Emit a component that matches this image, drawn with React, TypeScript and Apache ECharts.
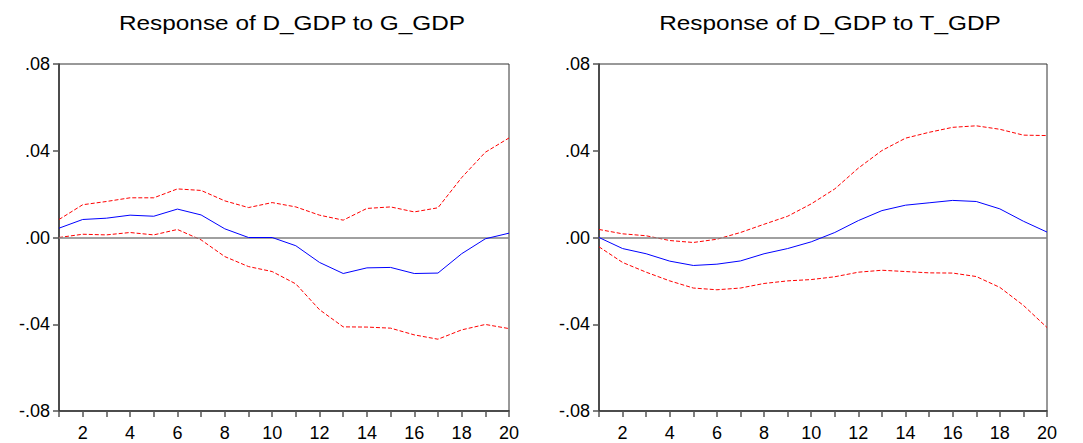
import React, { useEffect, useRef } from "react";
import * as echarts from "echarts";

// Impulse response horizons
const periods = [1, 2, 3, 4, 5, 6, 7, 8, 9, 10, 11, 12, 13, 14, 15, 16, 17, 18, 19, 20];
const yTicks = [-0.08, -0.04, 0, 0.04, 0.08];

// Response of D_GDP to G_GDP
const gResp = [0.0043, 0.0083, 0.0089, 0.0103, 0.0098, 0.0131, 0.0104, 0.004, 0.0, 0.0, -0.0038, -0.0115, -0.0166, -0.014, -0.0138, -0.0166, -0.0164, -0.0075, -0.0006, 0.002];
const gUpper = [0.0083, 0.0151, 0.0166, 0.0183, 0.0183, 0.0224, 0.0217, 0.0169, 0.0138, 0.0161, 0.0141, 0.0103, 0.008, 0.0134, 0.0141, 0.0118, 0.0137, 0.0276, 0.0393, 0.0459];
const gLower = [0.0, 0.0015, 0.0012, 0.0023, 0.0012, 0.0037, -0.0011, -0.0088, -0.0134, -0.0157, -0.0214, -0.0333, -0.0412, -0.0413, -0.0418, -0.0449, -0.0469, -0.0426, -0.0401, -0.042];

// Response of D_GDP to T_GDP
const tResp = [0.0, -0.0051, -0.0075, -0.0109, -0.0129, -0.0123, -0.0108, -0.0075, -0.0051, -0.002, 0.0023, 0.0078, 0.0124, 0.0149, 0.016, 0.0171, 0.0166, 0.0132, 0.0075, 0.0025];
const tUpper = [0.0037, 0.0017, 0.0008, -0.0014, -0.0023, -0.0008, 0.0023, 0.0061, 0.0098, 0.0155, 0.0224, 0.032, 0.0401, 0.0458, 0.0485, 0.0508, 0.0515, 0.0499, 0.0472, 0.047];
const tLower = [-0.0043, -0.0115, -0.016, -0.02, -0.0233, -0.0241, -0.0233, -0.0212, -0.02, -0.0194, -0.0181, -0.016, -0.0151, -0.0157, -0.0163, -0.0164, -0.018, -0.023, -0.0313, -0.0415];

const titles = ["Response of D_GDP to G_GDP", "Response of D_GDP to T_GDP"];

const FONT = "Liberation Sans, Arial, sans-serif";
const AXIS_COLOR = "#333333";

const fmtY = (v: number) => {
  const s = Math.abs(v).toFixed(2).replace(/^0/, "");
  return v < 0 ? "-" + s : s;
};

export default function App() {
  const ref = useRef<HTMLDivElement>(null);

  useEffect(() => {
    if (!ref.current) return;
    const chart = echarts.init(ref.current, undefined, { renderer: "svg" });

    const grids = [
      { left: 59, top: 64, width: 450, height: 347 },
      { left: 599, top: 64, width: 448, height: 347 },
    ];
    const titleCenters = [292, 830];
    const panels = [
      [gResp, gUpper, gLower],
      [tResp, tUpper, tLower],
    ];

    const xAxis = grids.map((_, i) => ({
      type: "category",
      gridIndex: i,
      data: periods.map(String),
      boundaryGap: false,
      axisLine: { onZero: false, lineStyle: { color: AXIS_COLOR, width: 1.5 } },
      axisTick: { show: true, interval: 0, length: 6, lineStyle: { color: "#555", width: 1.5 } },
      axisLabel: {
        interval: (idx: number, val: string) => Number(val) % 2 === 0,
        color: "#000",
        fontSize: 18,
        fontFamily: FONT,
        margin: 13,
      },
      splitLine: { show: false },
    }));

    const yAxis = grids.map((_, i) => ({
      type: "value",
      gridIndex: i,
      min: yTicks[0],
      max: yTicks[yTicks.length - 1],
      interval: 0.04,
      axisLine: { show: true, lineStyle: { color: AXIS_COLOR, width: 1.5 } },
      axisTick: { show: true, length: 6, lineStyle: { color: "#555", width: 1.5 } },
      axisLabel: { formatter: fmtY, color: "#000", fontSize: 18, fontFamily: FONT, margin: 9 },
      splitLine: { show: false },
    }));

    const series: any[] = [];
    panels.forEach((p, i) => {
      series.push({
        type: "line",
        xAxisIndex: i,
        yAxisIndex: i,
        data: p[0],
        symbol: "none",
        lineStyle: { color: "#0000ff", width: 1 },
        z: 5,
        markLine: {
          silent: true,
          symbol: "none",
          label: { show: false },
          lineStyle: { color: "#808080", width: 1.5, type: "solid" },
          data: [{ yAxis: 0 }],
        },
      });
      [p[1], p[2]].forEach((band) => {
        series.push({
          type: "line",
          xAxisIndex: i,
          yAxisIndex: i,
          data: band,
          symbol: "none",
          lineStyle: { color: "#ff0000", width: 1, type: [4, 2] },
          z: 4,
        });
      });
    });

    chart.setOption({
      animation: false,
      backgroundColor: "#ffffff",
      graphic: titles.map((t, i) => ({
        type: "text",
        x: titleCenters[i],
        y: 23,
        scaleX: 1.16,
        style: {
          text: t,
          fill: "#000",
          font: `21px ${FONT}`,
          align: "center",
          verticalAlign: "middle",
        },
      })),
      grid: grids.map((g) => ({ ...g, show: true, borderColor: AXIS_COLOR, borderWidth: 1, backgroundColor: "transparent" })),
      xAxis,
      yAxis,
      series,
    });

    return () => chart.dispose();
  }, []);

  return <div ref={ref} style={{ position: "fixed", left: 0, top: 0, width: 1083, height: 443 }} />;
}
